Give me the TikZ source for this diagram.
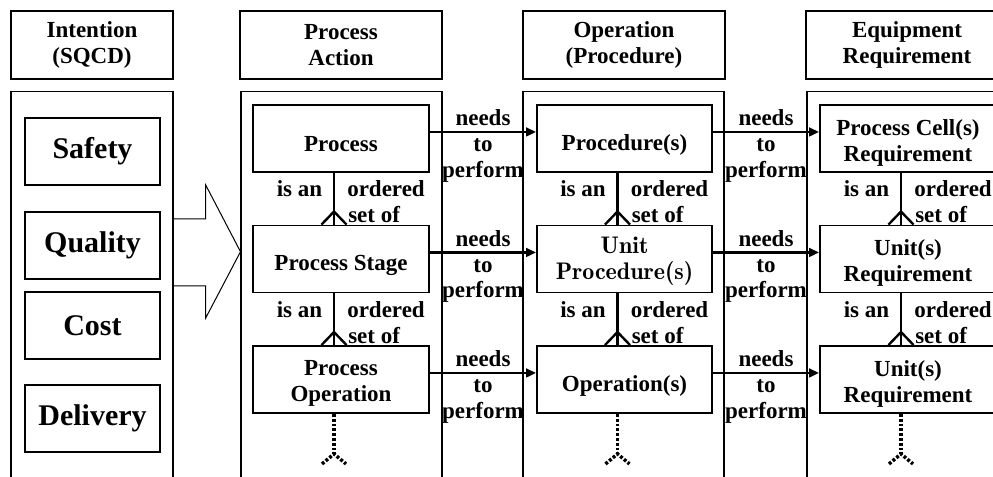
\documentclass[tikz,border=0pt]{standalone}
\usepackage{fontspec}
\setmainfont{Liberation Serif}
\newfontfamily\lmdemi{lmromandemi10-regular.otf}
\usetikzlibrary{arrows.meta,calc}

% crow's foot drawn on top of a box: three strokes meeting 13px above it
\newcommand\crowsfoot[1]{%
  \draw[link] ([xshift=-14.65pt]#1.north) -- ([xshift=-5.25pt,yshift=9.75pt]#1.north)
    -- ([xshift=4.15pt]#1.north);
  \draw[link] ([xshift=-5.25pt]#1.north) -- ([xshift=-5.25pt,yshift=9.75pt]#1.north);}

\begin{document}
\begin{tikzpicture}[x=0.75pt,y=-0.75pt,
  txt/.style={font=\fontsize{17.25}{19.5}\selectfont\bfseries},
  hdr/.style={draw, line width=1.3pt, minimum width=151.5pt, minimum height=51pt,
    inner sep=0pt, align=center, txt},
  frame/.style={draw, line width=1.3pt},
  qbox/.style={draw, line width=0.9pt, minimum width=101.25pt, minimum height=50.25pt,
    inner sep=0pt, font=\fontsize{22.5}{26}\selectfont\bfseries},
  ibox/.style={draw, line width=1.4pt, minimum width=132pt, minimum height=50.25pt, inner sep=0pt},
  itext/.style={inner sep=0pt, align=center, txt},
  lbl/.style={inner sep=0pt, anchor=base, txt},
  lblw/.style={inner sep=0pt, anchor=base west, txt},
  link/.style={line width=1.8pt, line join=miter},
  needarrow/.style={line width=1.8pt, -{Triangle[length=7.5pt,width=6.5pt]}},
  dotlink/.style={line width=2.6pt, dash pattern=on 2.2pt off 1.4pt}]

\useasboundingbox (0,0) rectangle (993,477);
\clip (0,0) rectangle (993,477);

% column headers
\node[hdr, minimum width=121.5pt] (hI) at (92,45) {Intention\\(SQCD)};
\node[hdr] (hP) at (341,45) {Process\\Action};
\node[hdr] (hO) at (624,45) {Operation\\(Procedure)};
\node[hdr] (hE) at (907,45) {Equipment\\Requirement};

% column frames, open below
\draw[frame] (11,91.5) rectangle (173,500);
\draw[frame] (241,91.5) rectangle (442,500);
\draw[frame] (523,91.5) rectangle (724,500);
\draw[frame] (807,91.5) rectangle (1008,500);

% intention items
\node[qbox] (safety)   at (92.5,151.5) {Safety};
\node[qbox] (quality)  at (92.5,245.5) {Quality};
\node[qbox] (cost)     at (92.5,325.5) {Cost};
\node[qbox] (delivery) at (92.5,418.5) {Delivery};

% block arrow from intention to the process column
\draw[line width=0.75pt, line join=miter] (173,219) -- (205.7,219) -- (205.7,185)
  -- (240.5,251.7) -- (205.7,318) -- (205.7,286) -- (173,286);

% process action column
\node[ibox] (pa1) at (341,138.5) {};
\node[itext] (pa1t) at ([yshift=-4.5pt]pa1.center) {Process};
\node[ibox] (pa2) at (341,259) {};
\node[itext] (pa2t) at ([yshift=-4.5pt]pa2.center) {Process Stage};
\node[ibox] (pa3) at (341,379.5) {};
\node[itext] (pa3t) at ([yshift=-3pt]pa3.center) {Process\\Operation};

% operation column
\node[ibox, minimum width=131.25pt] (op1) at (624.5,138.5) {};
\node[itext] (op1t) at ([yshift=-4.5pt]op1.center) {Procedure(s)};
\node[ibox, minimum width=131.25pt] (op2) at (624.5,259) {};
\node[itext, font=\fontsize{18}{19.5}\lmdemi] (op2t)
  at ([yshift=-2pt]op2.center) {Unit\\Procedure(s)};
\node[ibox, minimum width=131.25pt] (op3) at (624.5,379.5) {};
\node[itext] (op3t) at ([yshift=-4.5pt]op3.center) {Operation(s)};

% equipment column
\node[ibox] (eq1) at (908,138.5) {};
\node[itext] (eq1t) at ([yshift=-3pt]eq1.center) {Process Cell(s)\\Requirement};
\node[ibox] (eq2) at (908,259) {};
\node[itext] (eq2t) at ([yshift=-3pt]eq2.center) {Unit(s)\\Requirement};
\node[ibox] (eq3) at (908,379.5) {};
\node[itext] (eq3t) at ([yshift=-3pt]eq3.center) {Unit(s)\\Requirement};

% "is an ordered set of" links
\foreach \a/\b in {pa1/pa2, pa2/pa3, op1/op2, op2/op3, eq1/eq2, eq2/eq3}{
  \draw[link] ([xshift=-5.25pt]\a.south) -- ([xshift=-5.25pt,yshift=9.75pt]\b.north);
  \crowsfoot{\b}
  \node[lbl]  (isan-\a)  at ([xshift=-31.1pt,yshift=-18pt]\a.south) {is an};
  \node[lblw] (ord-\a)   at ([xshift=4.5pt,yshift=-18pt]\a.south) {ordered};
  \node[lblw] (setof-\a) at ([xshift=5.25pt,yshift=-37.5pt]\a.south) {set of};
}

% "needs to perform" arrows
\foreach \a/\b in {pa1/op1, pa2/op2, pa3/op3, op1/eq1, op2/eq2, op3/eq3}{
  \draw[needarrow] ([yshift=4.9pt]\a.east) -- ([yshift=4.9pt]\b.west);
  \coordinate (mid-\a) at ($([yshift=4.9pt]\a.east)!0.5!([yshift=4.9pt]\b.west)$);
  \node[lbl] (needs-\a)   at ([yshift=4.7pt]mid-\a)  {needs};
  \node[lbl] (to-\a)      at ([yshift=-14.8pt]mid-\a) {to};
  \node[lbl] (perform-\a) at ([yshift=-34pt]mid-\a)   {perform};
}

% continuation below the last row
\foreach \a in {pa3, op3, eq3}{
  \draw[dotlink] ([xshift=-5.25pt]\a.south) -- ([xshift=-5.25pt,yshift=-30pt]\a.south)
    coordinate (end-\a);
  \draw[dotlink] ([xshift=-9pt,yshift=-7.5pt]end-\a) -- (end-\a)
    -- ([xshift=9pt,yshift=-7.5pt]end-\a);
}
\end{tikzpicture}
\end{document}
